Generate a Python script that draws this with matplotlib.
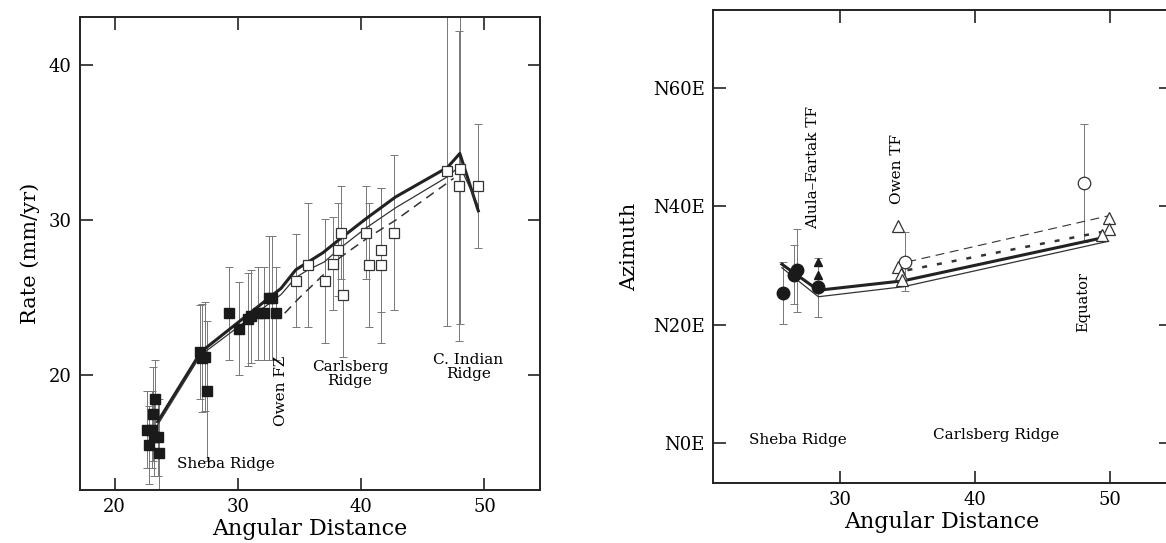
import matplotlib.pyplot as plt
import numpy as np

plt.rcParams['font.family'] = ['DejaVu Serif']

# ---- left panel: rate vs angular distance ----
# Sheba / Carlsberg filled squares
fs_x = [22.6, 22.8, 23.0, 23.1, 23.2, 23.3, 23.5, 23.6,
        26.9, 27.1, 27.3, 27.5,
        29.3, 30.1, 30.8, 31.1, 31.6, 32.1, 32.5, 32.8, 33.1]
fs_y = [16.5, 15.5, 16.5, 17.5, 16.0, 18.5, 16.0, 15.0,
        21.5, 21.1, 21.2, 19.0,
        24.0, 23.0, 23.6, 23.8, 24.0, 24.0, 25.0, 25.0, 24.0]
fs_e = [2.5, 2.5, 2.5, 3.0, 2.5, 2.5, 2.5, 3.5,
        3.0, 3.5, 3.5, 4.5,
        3.0, 3.0, 3.0, 3.0, 3.0, 3.0, 4.0, 4.0, 3.0]

# open squares
os_x = [34.7, 35.7, 37.1, 37.7, 38.4, 38.1, 38.5, 40.4, 40.6, 41.6, 41.6,
        42.7, 47.0, 48.0, 47.9, 49.5]
os_y = [26.1, 27.1, 26.1, 27.2, 29.2, 28.1, 25.2, 29.2, 27.1, 28.1, 27.1,
        29.2, 33.2, 33.3, 32.2, 32.2]
os_e = [3.0, 4.0, 4.0, 3.0, 3.0, 3.0, 4.0, 3.0, 4.0, 4.0, 5.0,
        5.0, 10.0, 10.0, 10.0, 4.0]

# model curves
m1_x = [23.5, 27.0, 33.5, 34.7, 35.7, 36.9, 38.3, 40.4, 42.8, 47.0, 48.0, 49.5]
m1_y = [17.0, 21.5, 25.6, 26.8, 27.3, 27.9, 28.8, 30.1, 31.5, 33.4, 34.3, 30.6]
m2_x = [23.5, 27.0, 33.5, 34.7, 35.7, 37.0, 38.3, 40.4, 42.8, 47.0, 48.0, 49.5]
m2_y = [16.8, 21.3, 25.2, 26.3, 26.8, 27.3, 28.2, 29.5, 30.8, 32.8, 33.5, 30.9]
m3_x = [33.8, 35.0, 37.1, 38.3, 40.6, 42.8, 47.5]
m3_y = [24.0, 25.0, 26.6, 27.6, 28.9, 30.0, 32.7]

# ---- right panel: azimuth vs angular distance ----
fc_x = [25.8, 26.8, 26.6, 28.4]
fc_y = [25.3, 29.2, 28.4, 26.3]
fc_e = [5.2, 7.0, 5.0, 5.0]
ft_x = [28.4, 28.4]
ft_y = [30.5, 28.4]
oc_x = [34.8, 48.1]
oc_y = [30.6, 43.9]
oc_e = [5.0, 10.0]
ot_x = [34.3, 34.3, 34.5, 34.6, 49.9, 49.9, 49.4]
ot_y = [36.7, 29.8, 28.5, 27.6, 38.1, 36.1, 35.1]

a1_x = [25.7, 28.4, 34.7, 49.3]
a1_y = [30.2, 25.8, 27.4, 34.6]
a2_x = [25.7, 28.4, 34.7, 49.9]
a2_y = [29.6, 24.7, 26.4, 34.1]
a3_x = [35.0, 49.7]
a3_y = [29.2, 35.8]
a4_x = [35.0, 49.9]
a4_y = [30.6, 38.4]

fig = plt.figure(figsize=(11.66, 5.43), dpi=100)
ax1 = fig.add_axes([0.0686, 0.0976, 0.3945, 0.8711])
ax2 = fig.add_axes([0.6115, 0.1105, 0.3926, 0.8711])

ecol = '#777777'
ax1.errorbar(fs_x, fs_y, yerr=fs_e, fmt='none', ecolor=ecol, elinewidth=0.7,
             capsize=3, capthick=0.7, zorder=2)
ax1.errorbar(os_x, os_y, yerr=os_e, fmt='none', ecolor=ecol, elinewidth=0.7,
             capsize=3, capthick=0.7, zorder=2)
ax1.plot(m1_x, m1_y, color='#222222', lw=2.2, zorder=3)
ax1.plot(m2_x, m2_y, color='#333333', lw=0.9, zorder=3)
ax1.plot(m3_x, m3_y, color='#333333', lw=1.1, ls=(0, (6, 4)), zorder=3)
ax1.plot(fs_x, fs_y, 's', color='#1a1a1a', ms=7.5, zorder=4)
ax1.plot(os_x, os_y, 's', mfc='white', mec='#333333', mew=0.9, ms=7.5, zorder=4)

ax1.set_xlim(17.2, 54.5)
ax1.set_ylim(12.6, 43.1)
ax1.set_xticks([20, 30, 40, 50])
ax1.set_yticks([20, 30, 40])
ax1.set_xlabel('Angular Distance', fontsize=16, labelpad=1)
ax1.set_ylabel('Rate (mm/yr)', fontsize=15, labelpad=6)

ax1.text(29.0, 14.3, 'Sheba Ridge', fontsize=11, ha='center', va='center')
ax1.text(33.5, 19.0, 'Owen FZ', fontsize=11, ha='center', va='center',
         rotation=90)
ax1.text(39.1, 20.1, 'Carlsberg\nRidge', fontsize=11, ha='center',
         va='center', linespacing=1.0)
ax1.text(48.7, 20.5, 'C. Indian\nRidge', fontsize=11, ha='center',
         va='center', linespacing=1.0)

ax2.errorbar(fc_x, fc_y, yerr=fc_e, fmt='none', ecolor=ecol, elinewidth=0.7,
             capsize=3, capthick=0.7, zorder=2)
ax2.errorbar(oc_x, oc_y, yerr=oc_e, fmt='none', ecolor=ecol, elinewidth=0.7,
             capsize=3, capthick=0.7, zorder=2)
ax2.plot(a1_x, a1_y, color='#222222', lw=2.2, zorder=3)
ax2.plot(a2_x, a2_y, color='#333333', lw=0.9, zorder=3)
ax2.plot(a3_x, a3_y, color='#333333', lw=1.8, ls=(0, (2, 4)), zorder=3)
ax2.plot(a4_x, a4_y, color='#333333', lw=0.8, ls=(0, (8, 5)), zorder=3)
ax2.plot(fc_x, fc_y, 'o', color='#1a1a1a', ms=9, zorder=4)
ax2.plot(ft_x, ft_y, '^', color='#1a1a1a', ms=6, zorder=4)
ax2.plot(oc_x, oc_y, 'o', mfc='white', mec='#333333', mew=0.9, ms=9, zorder=4)
ax2.plot(ot_x, ot_y, '^', mfc='white', mec='#333333', mew=0.9, ms=8, zorder=4)

ax2.set_xlim(20.6, 54.5)
ax2.set_ylim(-6.8, 73.2)
ax2.set_xticks([30, 40, 50])
ax2.set_yticks([0, 20, 40, 60])
ax2.set_yticklabels(['N0E', 'N20E', 'N40E', 'N60E'])
ax2.set_xlabel('Angular Distance', fontsize=16, labelpad=1)
ax2.set_ylabel('Azimuth', fontsize=15, labelpad=10)

ax2.text(28.0, 46.6, 'Alula\u2013Fartak TF', fontsize=11, ha='center',
         va='center', rotation=90)
ax2.text(34.2, 46.3, 'Owen TF', fontsize=11, ha='center', va='center',
         rotation=90)
ax2.text(48.0, 23.8, 'Equator', fontsize=10.5, ha='center', va='center',
         rotation=90)
ax2.text(26.9, 0.5, 'Sheba Ridge', fontsize=11, ha='center', va='center')
ax2.text(41.6, 1.3, 'Carlsberg Ridge', fontsize=11, ha='center', va='center')

for ax in (ax1, ax2):
    for s in ax.spines.values():
        s.set_linewidth(1.4)
        s.set_color('#222222')
    ax.tick_params(direction='in', length=9, width=1.2, top=True, right=True,
                   labelsize=13, pad=6, color='#222222')

plt.savefig('out.png', dpi=100)
